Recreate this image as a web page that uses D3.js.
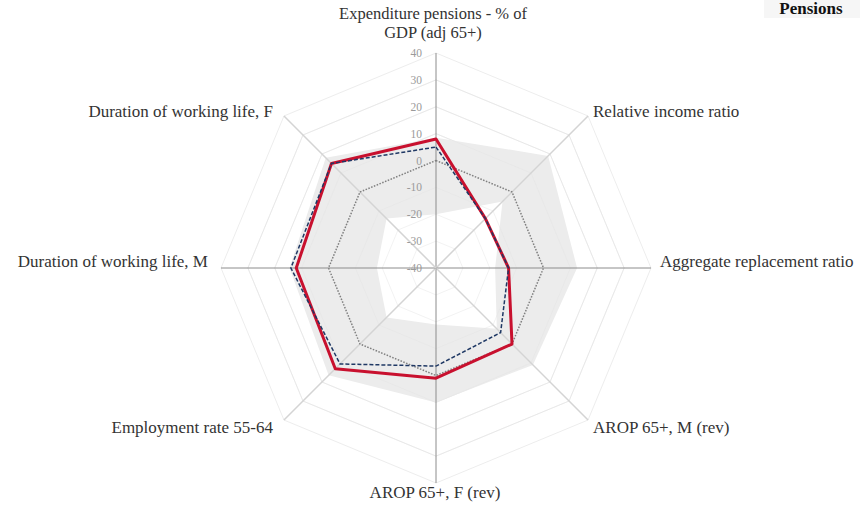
<!DOCTYPE html>
<html>
<head>
<meta charset="utf-8">
<script src="https://cdn.jsdelivr.net/npm/d3@7/dist/d3.min.js"></script>
<style>
  html, body { margin: 0; padding: 0; background: #ffffff; }
  svg { display: block; }
</style>
</head>
<body>
<svg id="chart" width="860" height="513"></svg>
<script>
// ---------------- data ----------------
const categories = [
  "Expenditure pensions - % of GDP (adj 65+)",
  "Relative income ratio",
  "Aggregate replacement ratio",
  "AROP 65+, M (rev)",
  "AROP 65+, F (rev)",
  "Employment rate 55-64",
  "Duration of working life, M",
  "Duration of working life, F"
];
const countryValues = [8, -14, -13, 0, 1, 13, 12, 15];
const comparisonValues = [5, -14, -13, -6, -3.5, 10.5, 14, 15];
const referenceValues = [0, 0, 0, 0, 0, 0, 0, 0];
const rangeMax = [8.5, 19, 12.5, 11, 10, 16.5, 14.5, 18];
const rangeMin = [-20, -5, -18, -8, -19, -14, -18, -14];
const tickValues = [-40, -30, -20, -10, 0, 10, 20, 30, 40];
const tickLabels = ["-40", "-30", "-20", "-10", "0", "10", "20", "30", "40"];
const panelTitle = "Pensions";

// ---------------- layout ----------------
const svg = d3.select("#chart");
const cx = 436, cy = 268, R = 215;
const n = categories.length;
const rScale = d3.scaleLinear().domain([-40, 40]).range([0, R]);
const angle = d3.scaleLinear().domain([0, n]).range([0, 2 * Math.PI]);
const serif = "'Liberation Serif', 'Times New Roman', serif";

const g = svg.append("g").attr("transform", `translate(${cx},${cy})`);

const radial = d3.lineRadial()
  .angle((d, i) => angle(i))
  .radius(d => rScale(d))
  .curve(d3.curveLinearClosed);

// ring gridlines
tickValues.slice(1).forEach(t => {
  g.append("path")
    .attr("d", radial(d3.range(n).map(() => t)))
    .attr("fill", "none")
    .attr("stroke", "#ededed")
    .attr("stroke-width", 1);
});

// range band: max filled grey, min filled white
g.append("path")
  .attr("d", radial(rangeMax))
  .attr("fill", "#ececec")
  .attr("stroke", "none");
g.append("path")
  .attr("d", radial(rangeMin))
  .attr("fill", "#ffffff")
  .attr("stroke", "none");

// faint rings visible across band
tickValues.slice(1, -1).forEach(t => {
  g.append("path")
    .attr("d", radial(d3.range(n).map(() => t)))
    .attr("fill", "none")
    .attr("stroke", "#e4e4e4")
    .attr("stroke-width", 0.8)
    .attr("opacity", 0.6);
});

// spokes
d3.range(n).forEach(i => {
  const a = angle(i);
  const diag = i % 2 === 1;
  g.append("line")
    .attr("x1", 0).attr("y1", 0)
    .attr("x2", R * Math.sin(a))
    .attr("y2", -R * Math.cos(a))
    .attr("stroke", diag ? "#d4d4d4" : "#8c8c8c")
    .attr("stroke-width", diag ? 1.5 : 1);
});

// tick labels along the vertical axis
g.selectAll("text.tick")
  .data(tickValues)
  .join("text")
  .attr("class", "tick")
  .attr("x", -14)
  .attr("y", d => -rScale(d))
  .attr("dy", "0.35em")
  .attr("text-anchor", "end")
  .attr("font-family", serif)
  .attr("font-size", 11.5)
  .attr("fill", "#9a9a9a")
  .text((d, i) => tickLabels[i]);

// reference line (grey dotted)
g.append("path")
  .attr("d", radial(referenceValues))
  .attr("fill", "none")
  .attr("stroke", "#7f7f7f")
  .attr("stroke-width", 1.5)
  .attr("stroke-dasharray", "1.5,1.5");

// red series
g.append("path")
  .attr("d", radial(countryValues))
  .attr("fill", "none")
  .attr("stroke", "#c8102e")
  .attr("stroke-width", 3)
  .attr("stroke-linejoin", "round");

// dashed navy series
g.append("path")
  .attr("d", radial(comparisonValues))
  .attr("fill", "none")
  .attr("stroke", "#1f3864")
  .attr("stroke-width", 1.5)
  .attr("stroke-dasharray", "4,2");

// category labels
const fs = 17;
categories.forEach((c, i) => {
  const a = angle(i);
  const ex = R * Math.sin(a), ey = -R * Math.cos(a);
  const s = Math.sin(a), co = Math.cos(a);
  let x = ex, y = ey, anchor = "middle";
  if (s > 0.1) { anchor = "start"; x = ex + 5; }
  else if (s < -0.1) { anchor = "end"; x = ex - 11; }
  if (Math.abs(s) > 0.9) { x = s > 0 ? ex + 9 : ex - 13; y = ey - 1; }
  else if (co > 0.9) { y = ey - 34; x = ex - 3; }
  else if (co < -0.9) { y = ey + 15; x = ex - 1; }
  else if (co > 0) { y = ey + 1; }
  else { y = ey + 13; }
  if (i === 0) {
    const lines = ["Expenditure pensions - % of", "GDP (adj 65+)"];
    lines.forEach((ln, k) => {
      g.append("text")
        .attr("x", x).attr("y", y + k * 19)
        .attr("text-anchor", anchor)
        .attr("font-family", serif)
        .attr("font-size", 16.5)
        .attr("fill", "#333333")
        .text(ln);
    });
  } else {
    g.append("text")
      .attr("x", x).attr("y", y)
      .attr("text-anchor", anchor)
      .attr("font-family", serif)
      .attr("font-size", fs)
      .attr("fill", "#333333")
      .text(c);
  }
});

// panel title, top right
svg.append("rect")
  .attr("x", 764).attr("y", 0).attr("width", 96).attr("height", 18)
  .attr("fill", "#f6f6f6");
svg.append("text")
  .attr("x", 811).attr("y", 14)
  .attr("text-anchor", "middle")
  .attr("font-family", serif)
  .attr("font-weight", "bold")
  .attr("font-size", 17)
  .attr("fill", "#111111")
  .text(panelTitle);
</script>
</body>
</html>
